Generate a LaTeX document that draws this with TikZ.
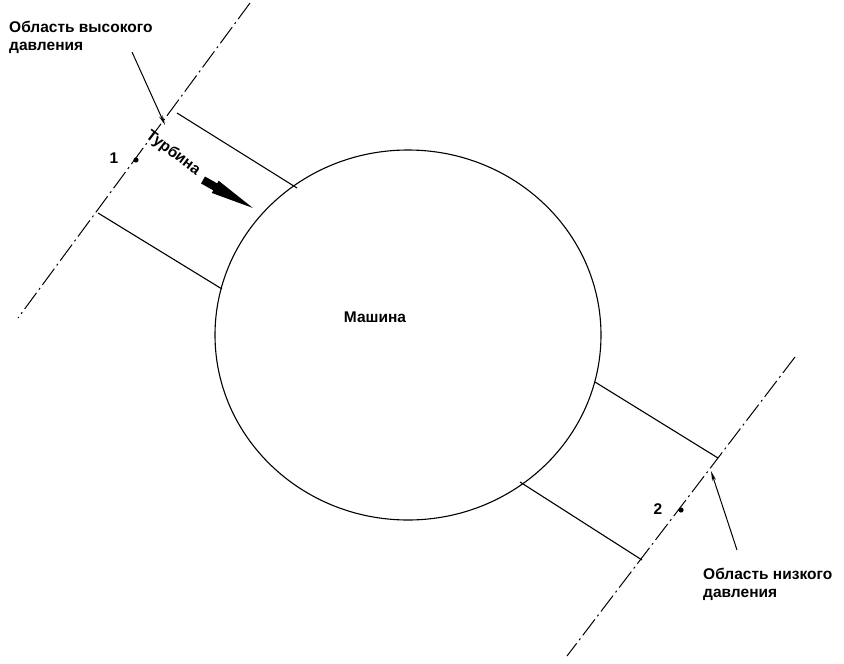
\documentclass[tikz,border=0pt]{standalone}
\usepackage{fontspec}
\setmainfont{Liberation Sans}
\usetikzlibrary{arrows.meta,shapes.geometric}
\begin{document}
\begin{tikzpicture}[x=1pt,y={(0pt,-1pt)},
  thinline/.style={line width=1.1pt,black},
  axisline/.style={line width=1pt,black,dash pattern=on 20pt off 4pt on 2pt off 4pt},
  leader/.style={line width=1pt,-{Stealth[length=10pt,width=4pt]}},
  lbl/.style={font=\bfseries\fontsize{15.5}{18}\selectfont,align=left,anchor=north west,inner sep=0pt},
  num/.style={font=\bfseries\fontsize{15.5}{18}\selectfont,inner sep=0pt}]
\useasboundingbox (0,0) rectangle (844,664);
% machine
\node[draw,thinline,ellipse,minimum width=386pt,minimum height=370pt,inner sep=0pt] (mach) at (408,335) {};
\node[num] (machlbl) at (375,317) {Машина};
% left (high pressure) section line
\coordinate (L1a) at (250,3);
\coordinate (L1b) at (18,318);
\draw[axisline] (L1a) -- (L1b);
% right (low pressure) section line
\coordinate (L2a) at (795,357);
\coordinate (L2b) at (567,656);
\draw[axisline] (L2a) -- (L2b);
% inlet pipe
\coordinate (A1) at (177,113);
\coordinate (A2) at (297,188);
\coordinate (B1) at (98,213);
\coordinate (B2) at (222,289);
\draw[thinline] (A1) -- (A2);
\draw[thinline] (B1) -- (B2);
% outlet pipe
\coordinate (C1) at (718,458);
\coordinate (C2) at (595,382);
\coordinate (D1) at (642,560);
\coordinate (D2) at (520,482);
\draw[thinline] (C1) -- (C2);
\draw[thinline] (D1) -- (D2);
% points
\coordinate (p1) at (136,160);
\fill (p1) circle (2.6pt);
\node[num] (n1) at (114,158) {1};
\coordinate (p2) at (681,510);
\fill (p2) circle (2.6pt);
\node[num] (n2) at (658,509) {2};
% labels
\node[lbl] (hp) at (9,21) {Область высокого\\давления};
\node[lbl] (lp) at (703,568) {Область низкого\\давления};
\coordinate (hpTail) at (132,52);
\coordinate (hpTip) at (165,125);
\draw[leader] (hpTail) -- (hpTip);
\coordinate (lpTail) at (737,550);
\coordinate (lpTip) at (711,471);
\draw[leader] (lpTail) -- (lpTip);
% turbine label and flow arrow
\node[num,rotate=-37] (turb) at (173,153) {Турбина};
\fill (201.04,183.49) -- (213.26,190.34) -- (211.80,192.96) -- (252.8,207.9)
      -- (218.64,180.74) -- (217.18,183.36) -- (204.96,176.51) -- cycle;
\end{tikzpicture}
\end{document}
